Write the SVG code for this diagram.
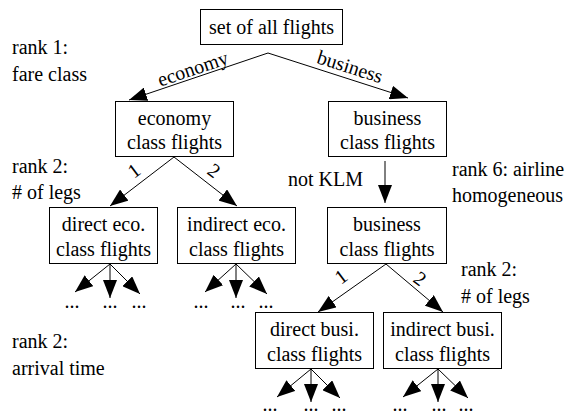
<svg xmlns="http://www.w3.org/2000/svg" width="575" height="414" viewBox="0 0 575 414">
<style>
text{font-family:"Liberation Serif","Times New Roman",serif;font-size:20px;fill:#000}
.n text{text-anchor:middle}
.box{fill:#fff;stroke:#000;stroke-width:1}
.e line{stroke:#000;stroke-width:1;marker-end:url(#ah)}
.lbl{text-anchor:middle}
</style>
<defs>
<marker id="ah" markerWidth="18" markerHeight="14" refX="18" refY="7" orient="auto" markerUnits="userSpaceOnUse"><path d="M0,0 L18,7 L0,14 z" fill="#000"/></marker>
</defs>
<rect width="575" height="414" fill="#fff"/>
<g id="ranks">
<text x="12" y="54">rank 1:</text><text x="12" y="81">fare class</text>
<text x="12" y="173">rank 2:</text><text x="12" y="199"># of legs</text>
<text x="452" y="176">rank 6: airline</text><text x="452" y="202">homogeneous</text>
<text x="461" y="276">rank 2:</text><text x="461" y="303"># of legs</text>
<text x="12" y="348">rank 2:</text><text x="12" y="375">arrival time</text>
</g>
<g id="connectors" class="e">
<line x1="268" y1="53" x2="129" y2="100"/>
<line x1="268" y1="53" x2="408" y2="98"/>
<line x1="174" y1="157" x2="110" y2="206"/>
<line x1="174" y1="157" x2="237" y2="206"/>
<line x1="385" y1="161" x2="385" y2="203"/>
<line x1="386" y1="264" x2="318" y2="312"/>
<line x1="386" y1="264" x2="443" y2="312"/>
<line x1="110" y1="264" x2="75" y2="292"/>
<line x1="110" y1="264" x2="110" y2="298"/>
<line x1="110" y1="264" x2="140" y2="294"/>
<line x1="236" y1="264" x2="205" y2="292"/>
<line x1="236" y1="264" x2="236" y2="298"/>
<line x1="236" y1="264" x2="267" y2="294"/>
<line x1="311" y1="369" x2="277" y2="397"/>
<line x1="311" y1="369" x2="311" y2="402"/>
<line x1="311" y1="369" x2="340" y2="398"/>
<line x1="438" y1="369" x2="403" y2="397"/>
<line x1="438" y1="369" x2="438" y2="402"/>
<line x1="438" y1="369" x2="468" y2="398"/>
</g>
<g id="edge-labels">
<text class="lbl" x="195" y="75" transform="rotate(-18.7 195 75)">economy</text>
<text class="lbl" x="348" y="73" transform="rotate(17.8 348 73)">business</text>
<text class="lbl" x="138" y="176" transform="rotate(-37 138 176)">1</text>
<text class="lbl" x="210" y="176" transform="rotate(37 210 176)">2</text>
<text class="lbl" x="345" y="282" transform="rotate(-37 345 282)">1</text>
<text class="lbl" x="416" y="284" transform="rotate(37 416 284)">2</text>
<text x="288" y="186">not KLM</text>
</g>
<g id="n-all" class="n"><rect class="box" x="200.5" y="9.5" width="142" height="35"/><text x="271.5" y="34">set of all flights</text></g>
<g id="n-eco" class="n"><rect class="box" x="115.5" y="101.5" width="118" height="55"/><text x="174.5" y="125">economy</text><text x="174.5" y="149">class flights</text></g>
<g id="n-bus" class="n"><rect class="box" x="328.5" y="101.5" width="118" height="55"/><text x="387.5" y="125">business</text><text x="387.5" y="149">class flights</text></g>
<g id="n-deco" class="n"><rect class="box" x="49.5" y="207.5" width="108" height="56"/><text x="103.5" y="231">direct eco.</text><text x="103.5" y="256">class flights</text></g>
<g id="n-ieco" class="n"><rect class="box" x="177.5" y="207.5" width="118" height="56"/><text x="236.5" y="231">indirect eco.</text><text x="236.5" y="256">class flights</text></g>
<g id="n-bus2" class="n"><rect class="box" x="327.5" y="207.5" width="119" height="56"/><text x="387" y="231">business</text><text x="387" y="256">class flights</text></g>
<g id="n-dbus" class="n"><rect class="box" x="255.5" y="312.5" width="118" height="56"/><text x="314.5" y="336">direct busi.</text><text x="314.5" y="361">class flights</text></g>
<g id="n-ibus" class="n"><rect class="box" x="383.5" y="312.5" width="118" height="56"/><text x="442.5" y="336">indirect busi.</text><text x="442.5" y="361">class flights</text></g>
<g id="dots" class="n">
<text x="72" y="308">...</text><text x="110" y="308">...</text><text x="139" y="308">...</text>
<text x="201" y="308">...</text><text x="238" y="308">...</text><text x="266" y="308">...</text>
<text x="270" y="411">...</text><text x="311" y="411">...</text><text x="339" y="411">...</text>
<text x="400" y="411">...</text><text x="439" y="411">...</text><text x="466" y="411">...</text>
</g>
</svg>
